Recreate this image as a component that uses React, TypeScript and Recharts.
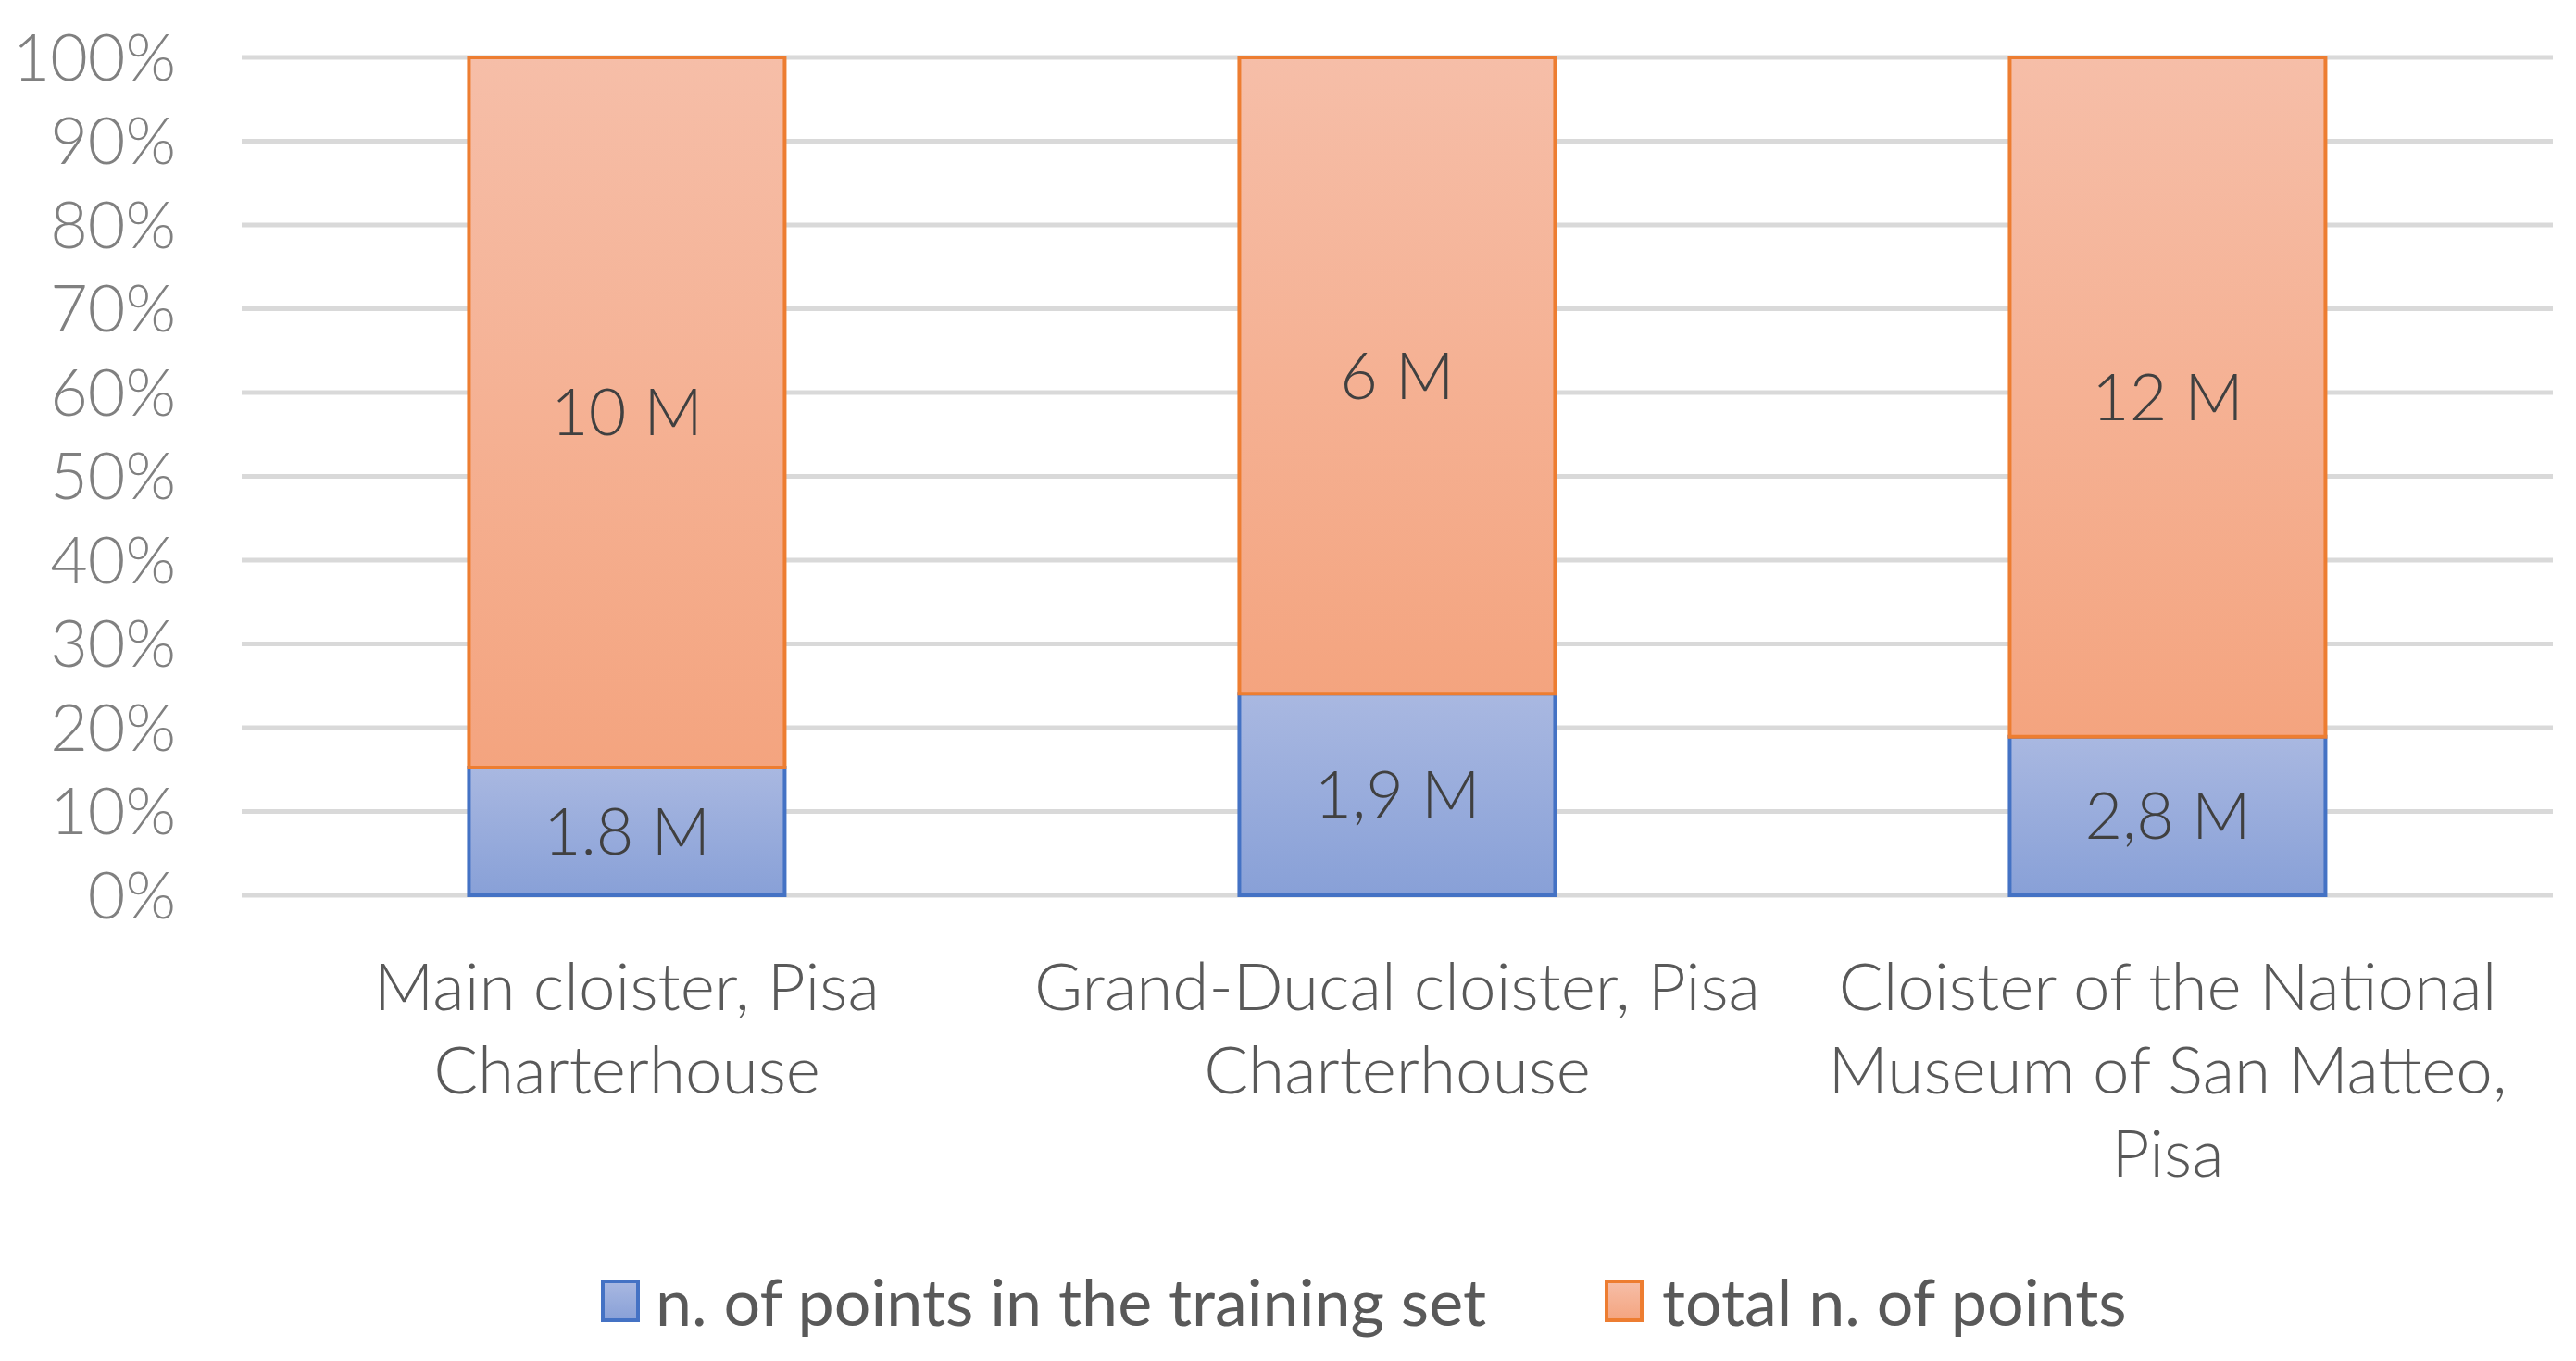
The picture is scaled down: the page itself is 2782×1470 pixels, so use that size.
import React from 'react';
import { BarChart, Bar, XAxis, YAxis, CartesianGrid, LabelList, Legend } from 'recharts';

const categories = [
  'Main cloister, Pisa Charterhouse',
  'Grand-Ducal cloister, Pisa Charterhouse',
  'Cloister of the National Museum of San Matteo, Pisa',
];
const categoryLines = [
  ['Main cloister, Pisa', 'Charterhouse'],
  ['Grand-Ducal cloister, Pisa', 'Charterhouse'],
  ['Cloister of the National', 'Museum of San Matteo,', 'Pisa'],
];
const trainingPoints = [1.8, 1.9, 2.8];
const totalPoints = [10, 6, 12];
const trainingLabels = ['1.8 M', '1,9 M', '2,8 M'];
const totalLabels = ['10 M', '6 M', '12 M'];
const seriesNames = ['n. of points in the training set', 'total n. of points'];
const yTicks = [0, 0.1, 0.2, 0.3, 0.4, 0.5, 0.6, 0.7, 0.8, 0.9, 1];

const data = categories.map((c, i) => ({
  name: c,
  training: trainingPoints[i],
  total: totalPoints[i],
  trainingLabel: trainingLabels[i],
  totalLabel: totalLabels[i],
}));

const FONT = "'Lato', 'Open Sans', sans-serif";
const LEGEND_FONT = "'Liberation Sans Narrow', 'Lato', sans-serif";

const CatTick = (props: any) => {
  const { x, y, payload } = props;
  const lines = categoryLines[payload.index] || [String(payload.value)];
  return (
    <text x={x} y={y} textAnchor="middle" fill="#595959" fontSize={71} fontFamily={FONT} fontWeight={300}>
      {lines.map((l, i) => (
        <tspan key={i} x={x} dy={i === 0 ? 124 : 90}>
          {l}
        </tspan>
      ))}
    </text>
  );
};

const Swatch = ({ grad, stroke }: { grad: string; stroke: string }) => (
  <svg width={42} height={46} style={{ display: 'block' }}>
    <defs>
      <linearGradient id={grad + 'L'} x1="0" y1="0" x2="0" y2="1">
        {grad === 'blue' ? (
          <>
            <stop offset="0%" stopColor="#A9B8E1" />
            <stop offset="100%" stopColor="#88A0D7" />
          </>
        ) : (
          <>
            <stop offset="0%" stopColor="#F6BEA8" />
            <stop offset="100%" stopColor="#F4A47F" />
          </>
        )}
      </linearGradient>
    </defs>
    <rect x={2} y={2} width={38} height={42} fill={`url(#${grad}L)`} stroke={stroke} strokeWidth={4} />
  </svg>
);

const renderLegend = () => (
  <div
    style={{
      display: 'flex',
      alignItems: 'center',
      height: 60,
      paddingLeft: 649,
      fontFamily: LEGEND_FONT,
      fontSize: 70,
      color: '#595959',
      whiteSpace: 'nowrap',
    }}
  >
    <Swatch grad="blue" stroke="#4472C4" />
    <span style={{ marginLeft: 17 }}>{seriesNames[0]}</span>
    <div style={{ width: 128 }} />
    <Swatch grad="orange" stroke="#ED7D31" />
    <span style={{ marginLeft: 20 }}>{seriesNames[1]}</span>
  </div>
);

export default function App() {
  return (
    <div style={{ position: 'absolute', left: 0, top: 0, width: 2782, height: 1470, background: '#fff' }}>
      <BarChart
        width={2782}
        height={1470}
        data={data}
        stackOffset="expand"
        barCategoryGap="29.5%"
        margin={{ top: 62, right: 25, left: 0, bottom: 35 }}
      >
        <defs>
          <linearGradient id="blueGrad" x1="0" y1="0" x2="0" y2="1">
            <stop offset="0%" stopColor="#A9B8E1" />
            <stop offset="100%" stopColor="#88A0D7" />
          </linearGradient>
          <linearGradient id="orangeGrad" x1="0" y1="0" x2="0" y2="1">
            <stop offset="0%" stopColor="#F6BEA8" />
            <stop offset="100%" stopColor="#F4A47F" />
          </linearGradient>
        </defs>
        <CartesianGrid vertical={false} stroke="#D9D9D9" strokeWidth={5} />
        <XAxis
          dataKey="name"
          axisLine={false}
          tickLine={false}
          tickSize={0}
          tickMargin={0}
          height={408}
          interval={0}
          tick={<CatTick />}
        />
        <YAxis
          width={261}
          domain={[0, 1]}
          ticks={yTicks}
          axisLine={false}
          tickLine={false}
          tickSize={0}
          tickMargin={71}
          tickFormatter={(v: number) => `${Math.round(v * 100)}%`}
          tick={{ fill: '#808080', fontSize: 70, fontFamily: FONT, fontWeight: 300 }}
        />
        <Legend verticalAlign="bottom" width={2782} wrapperStyle={{ left: 0 }} content={renderLegend} />
        <Bar
          dataKey="training"
          name={seriesNames[0]}
          stackId="a"
          fill="url(#blueGrad)"
          stroke="#4472C4"
          strokeWidth={4}
          isAnimationActive={false}
        >
          <LabelList
            dataKey="trainingLabel"
            position="center"
            fill="#404040"
            fontSize={70}
            fontFamily={FONT}
            fontWeight={300}
          />
        </Bar>
        <Bar
          dataKey="total"
          name={seriesNames[1]}
          stackId="a"
          fill="url(#orangeGrad)"
          stroke="#ED7D31"
          strokeWidth={4}
          isAnimationActive={false}
        >
          <LabelList
            dataKey="totalLabel"
            position="center"
            fill="#404040"
            fontSize={70}
            fontFamily={FONT}
            fontWeight={300}
          />
        </Bar>
      </BarChart>
    </div>
  );
}
